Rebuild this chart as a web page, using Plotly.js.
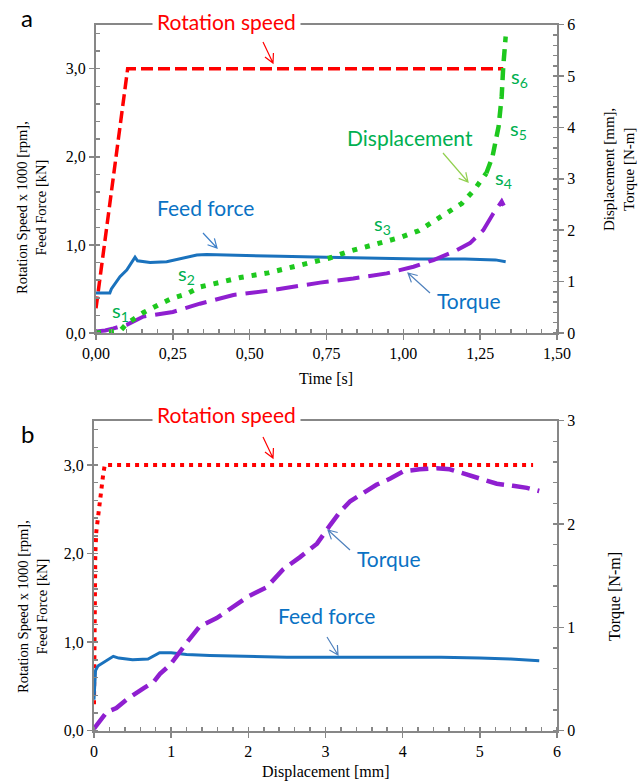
<!DOCTYPE html>
<html>
<head>
<meta charset="utf-8">
<script src="https://cdn.plot.ly/plotly-3.0.1.min.js"></script>
<style>html,body{margin:0;padding:0;background:#fff;}#chart{width:639px;height:783px;}</style>
</head>
<body>
<div id="chart"></div>
<script>
// ---- Panel a (time domain) ----
const timeRot = [0, 0.103, 1.325];
const rotA = [0.28, 3.0, 3.0];

const timeFeed = [0, 0.045, 0.05, 0.06, 0.078, 0.10, 0.127, 0.135, 0.15, 0.176, 0.23, 0.284, 0.328, 0.36, 0.45, 0.6, 0.75, 0.9, 1.05, 1.2, 1.3, 1.333];
const feedA = [0.455, 0.455, 0.50, 0.55, 0.64, 0.715, 0.86, 0.82, 0.81, 0.80, 0.81, 0.85, 0.885, 0.89, 0.88, 0.87, 0.86, 0.85, 0.84, 0.84, 0.83, 0.81];

const timeDisp = [0, 0.04, 0.08, 0.10, 0.125, 0.155, 0.21, 0.25, 0.295, 0.34, 0.40, 0.47, 0.56, 0.64, 0.70, 0.76, 0.83, 0.90, 0.99, 1.05, 1.12, 1.19, 1.23, 1.27, 1.29, 1.31, 1.32, 1.325, 1.333];
const dispA = [0, 0.02, 0.05, 0.18, 0.28, 0.40, 0.57, 0.68, 0.76, 0.90, 0.98, 1.08, 1.17, 1.28, 1.36, 1.46, 1.60, 1.71, 1.86, 1.99, 2.25, 2.52, 2.78, 3.11, 3.43, 4.02, 4.60, 5.18, 5.77];

const timeTorque = [0, 0.03, 0.057, 0.078, 0.10, 0.154, 0.25, 0.338, 0.447, 0.556, 0.664, 0.729, 0.837, 0.946, 1.033, 1.098, 1.163, 1.217, 1.26, 1.293, 1.32, 1.327];
const torqueA = [0.03, 0.05, 0.09, 0.12, 0.16, 0.32, 0.41, 0.57, 0.74, 0.82, 0.93, 0.98, 1.06, 1.16, 1.29, 1.42, 1.58, 1.75, 2.0, 2.33, 2.56, 2.48];

// ---- Panel b (displacement domain) ----
const dRot = [0, 0.005, 0.01, 0.017, 0.03, 0.043, 0.06, 0.078, 0.10, 0.12, 0.14, 5.69];
const rotB = [0.3, 1.0, 1.6, 2.0, 2.25, 2.35, 2.5, 2.65, 2.75, 2.9, 3.0, 3.0];

const dFeed = [0, 0.005, 0.01, 0.02, 0.05, 0.1, 0.18, 0.25, 0.32, 0.5, 0.7, 0.85, 1.0, 1.2, 1.5, 2.0, 2.5, 3.0, 3.5, 4.0, 4.5, 5.0, 5.4, 5.77];
const feedB = [0.35, 0.45, 0.55, 0.68, 0.73, 0.76, 0.80, 0.84, 0.82, 0.80, 0.81, 0.88, 0.88, 0.86, 0.85, 0.84, 0.83, 0.83, 0.83, 0.83, 0.83, 0.82, 0.81, 0.79];

const dTorque = [0, 0.078, 0.164, 0.29, 0.42, 0.64, 0.77, 0.855, 0.99, 1.2, 1.37, 1.59, 1.81, 2.0, 2.24, 2.45, 2.67, 2.89, 3.06, 3.19, 3.32, 3.49, 3.66, 3.84, 4.01, 4.22, 4.44, 4.61, 4.79, 5.0, 5.22, 5.43, 5.61, 5.77];
const torqueB = [0.02, 0.09, 0.18, 0.22, 0.30, 0.41, 0.47, 0.55, 0.64, 0.85, 1.01, 1.09, 1.20, 1.30, 1.39, 1.56, 1.68, 1.81, 1.99, 2.12, 2.22, 2.30, 2.38, 2.44, 2.51, 2.53, 2.54, 2.53, 2.49, 2.44, 2.39, 2.37, 2.35, 2.32];

const RED = '#ff0000', BLUE = '#1a72bd', GREEN = '#1ec81e', PURPLE = '#8f1fd0';
const LBL_BLUE = '#0a72c4', LBL_GREEN = '#00b050';

const splitIdx = timeDisp.indexOf(1.27);

const traces = [
  {x: timeRot, y: rotA, xaxis: 'x', yaxis: 'y', mode: 'lines', line: {color: RED, width: 3.5, dash: '12px,5px'}},
  {x: timeTorque, y: torqueA, xaxis: 'x', yaxis: 'y2', mode: 'lines', line: {color: PURPLE, width: 4, dash: '22px,9px'}},
  {x: timeDisp.slice(0, splitIdx + 1), y: dispA.slice(0, splitIdx + 1), xaxis: 'x', yaxis: 'y2', mode: 'lines', line: {color: GREEN, width: 5, dash: '5px,8px'}},
  {x: timeDisp.slice(splitIdx), y: dispA.slice(splitIdx), xaxis: 'x', yaxis: 'y2', mode: 'lines', line: {color: GREEN, width: 4.5, dash: '12px,7px'}},
  {x: timeFeed, y: feedA, xaxis: 'x', yaxis: 'y', mode: 'lines', line: {color: BLUE, width: 3}},

  {x: dRot, y: rotB, xaxis: 'x2', yaxis: 'y3', mode: 'lines', line: {color: RED, width: 4, dash: '4px,5px'}},
  {x: dTorque, y: torqueB, xaxis: 'x2', yaxis: 'y4', mode: 'lines', line: {color: PURPLE, width: 4.5, dash: '18px,8px'}},
  {x: dFeed, y: feedB, xaxis: 'x2', yaxis: 'y3', mode: 'lines', line: {color: BLUE, width: 3}}
];

const W = 639, H = 783;
const px = v => v / W;
const py = v => 1 - v / H;

const AXC = '#878787';
const tickFont = {family: 'Liberation Serif, Times New Roman, serif', size: 16, color: '#000'};
const baseAxis = {
  showgrid: false, zeroline: false, showline: true, linecolor: AXC, linewidth: 2,
  ticks: 'outside', ticklen: 5, tickcolor: AXC, tickwidth: 1.5, tickfont: tickFont,
  fixedrange: true
};
function axis(extra) { return Object.assign({}, baseAxis, extra); }

const serif16 = {family: 'Liberation Serif, Times New Roman, serif', size: 16, color: '#000'};
const serifR = {family: 'Liberation Serif, Times New Roman, serif', size: 15, color: '#000'};
const serifL = {family: 'Liberation Serif, Times New Roman, serif', size: 14.5, color: '#000'};
const sans = 'Lato, Open Sans, sans-serif';

function label(text, x, y, color, size, extra) {
  return Object.assign({text: text, x: px(x), y: py(y), xref: 'paper', yref: 'paper', showarrow: false,
    xanchor: 'center', yanchor: 'middle', font: {family: sans, size: size, color: color}}, extra || {});
}
// open chevron pointer drawn as a path shape (tail -> tip, two arms at the tip)
function arrow(tx, ty, hx, hy, color) {
  const dx = hx - tx, dy = hy - ty, len = Math.hypot(dx, dy);
  const ux = dx / len, uy = dy / len, L = 10, a = 28 * Math.PI / 180;
  const arm = s => {
    const c = Math.cos(s * a), sn = Math.sin(s * a);
    const rx = ux * c - uy * sn, ry = ux * sn + uy * c;
    return [hx - L * rx, hy - L * ry];
  };
  const a1 = arm(1), a2 = arm(-1);
  const P = (x, y) => px(x) + ' ' + py(y);
  return {type: 'path', xref: 'paper', yref: 'paper',
    path: 'M ' + P(tx, ty) + ' L ' + P(hx, hy) + ' M ' + P(a1[0], a1[1]) + ' L ' + P(hx, hy) + ' L ' + P(a2[0], a2[1]),
    line: {color: color, width: 1.2}};
}

const shapes = [
  arrow(263, 42, 273, 63, RED),
  arrow(203, 233, 217, 248, '#3d7fc8'),
  arrow(443, 153, 468, 182, '#92d050'),
  arrow(430, 293, 408, 273, '#4f81bd'),
  arrow(263, 437, 273, 458, RED),
  arrow(350, 550, 328, 530, '#4f81bd'),
  arrow(327, 637, 338, 655, '#4f81bd')
];

const annotations = [
  label('a', 27, 18, '#000', 24),
  label('Rotation speed', 226, 21, RED, 21, {bgcolor: '#fff', borderpad: 4}),
  label('Feed force', 205, 208, LBL_BLUE, 21),
  label('Displacement', 410, 137, LBL_GREEN, 21),
  label('Torque', 469, 300, LBL_BLUE, 21),
  label('s<sub>1</sub>', 120, 311, LBL_GREEN, 20),
  label('s<sub>2</sub>', 186, 275, LBL_GREEN, 20),
  label('s<sub>3</sub>', 382, 224, LBL_GREEN, 20),
  label('s<sub>4</sub>', 504, 178, LBL_GREEN, 20),
  label('s<sub>5</sub>', 518, 129, LBL_GREEN, 20),
  label('s<sub>6</sub>', 519, 78, LBL_GREEN, 20),

  label('b', 27, 433, '#000', 24),
  label('Rotation speed', 226, 415, RED, 21, {bgcolor: '#fff', borderpad: 4}),
  label('Torque', 389, 558, LBL_BLUE, 21),
  label('Feed force', 326, 615, LBL_BLUE, 21),

  // axis titles
  {text: 'Rotation Speed x 1000 [rpm],<br>Feed Force [kN]', x: px(32), y: py(208), xref: 'paper', yref: 'paper', showarrow: false, textangle: -90, font: serifL, xanchor: 'center', yanchor: 'middle'},
  {text: 'Displacement [mm],<br>Torque [N-m]', x: px(619), y: py(170), xref: 'paper', yref: 'paper', showarrow: false, textangle: -90, font: serifR, xanchor: 'center', yanchor: 'middle'},
  {text: 'Time [s]', x: px(326), y: py(378), xref: 'paper', yref: 'paper', showarrow: false, font: serif16, xanchor: 'center', yanchor: 'middle'},
  {text: 'Rotation Speed x 1000 [rpm],<br>Feed Force [kN]', x: px(32), y: py(607), xref: 'paper', yref: 'paper', showarrow: false, textangle: -90, font: serifL, xanchor: 'center', yanchor: 'middle'},
  {text: 'Torque [N-m]', x: px(615), y: py(597), xref: 'paper', yref: 'paper', showarrow: false, textangle: -90, font: serif16, xanchor: 'center', yanchor: 'middle'},
  {text: 'Displacement [mm]', x: px(326), y: py(772), xref: 'paper', yref: 'paper', showarrow: false, font: serif16, xanchor: 'center', yanchor: 'middle'}
];

const layout = {
  width: W, height: H,
  margin: {l: 0, r: 0, t: 0, b: 0},
  paper_bgcolor: '#fff', plot_bgcolor: '#fff',
  showlegend: false,
  separators: ', ',
  xaxis: axis({domain: [px(96), px(557)], anchor: 'y', range: [0, 1.5], dtick: 0.25, tick0: 0, tickformat: '.2f', mirror: true,
    minor: {dtick: 0.05, ticks: 'inside', ticklen: 4, tickcolor: AXC}}),
  yaxis: axis({domain: [1 - 333 / H, 1 - 24.7 / H], anchor: 'x', range: [0, 3.5], dtick: 1, tick0: 0, tickformat: '.1f',
    minor: {dtick: 0.2, ticks: 'inside', ticklen: 4, tickcolor: AXC}}),
  yaxis2: axis({overlaying: 'y', side: 'right', anchor: 'x', range: [0, 6], dtick: 1, tick0: 0,
    minor: {dtick: 0.2, ticks: 'inside', ticklen: 4, tickcolor: AXC}}),
  xaxis2: axis({domain: [px(94), px(557)], anchor: 'y3', range: [0, 6], dtick: 1, tick0: 0, mirror: true,
    minor: {dtick: 0.2, ticks: 'inside', ticklen: 4, tickcolor: AXC}}),
  yaxis3: axis({domain: [1 - 730.7 / H, 1 - 420.7 / H], anchor: 'x2', range: [0, 3.5], dtick: 1, tick0: 0, tickformat: '.1f',
    minor: {dtick: 0.2, ticks: 'inside', ticklen: 4, tickcolor: AXC}}),
  yaxis4: axis({overlaying: 'y3', side: 'right', anchor: 'x2', range: [0, 3], dtick: 1, tick0: 0,
    minor: {dtick: 0.2, ticks: 'inside', ticklen: 4, tickcolor: AXC}}),
  shapes: shapes,
  annotations: annotations
};

Plotly.newPlot('chart', traces, layout, {displayModeBar: false, staticPlot: true});
</script>
</body>
</html>
